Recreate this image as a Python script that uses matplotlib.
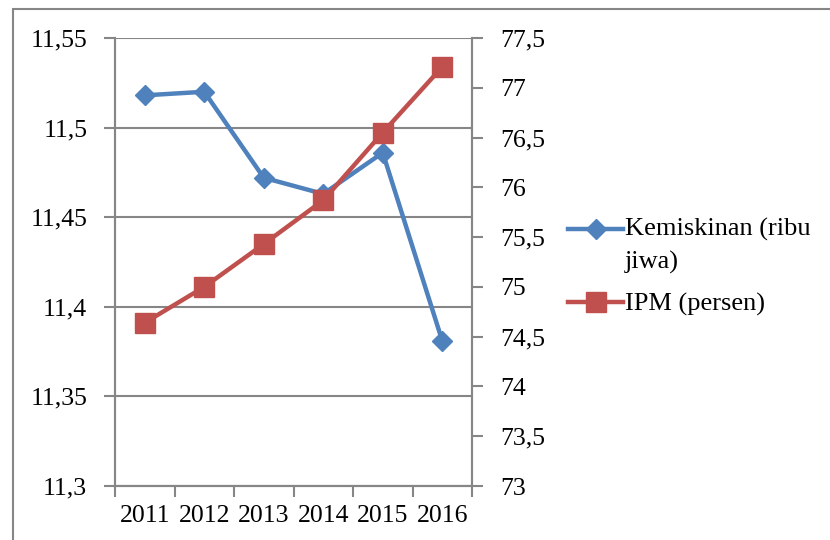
import matplotlib.pyplot as plt
import numpy as np
from matplotlib.ticker import FuncFormatter, MultipleLocator
from matplotlib.patches import Rectangle

tahun = ["2011", "2012", "2013", "2014", "2015", "2016"]
kemiskinan = [11.518, 11.520, 11.472, 11.463, 11.486, 11.381]
ipm = [74.64, 75.00, 75.43, 75.87, 76.55, 77.21]

plt.rcParams['font.family'] = ['Liberation Serif', 'DejaVu Serif']
grey = "#868686"
blue = "#4F81BD"
red = "#C0504D"

def koma(v, pos):
    return ("%g" % v).replace(".", ",")

fig = plt.figure(figsize=(8.3, 5.4), dpi=100)
fig.patches.append(Rectangle((13/830, -0.1), 1.2, (540-9)/540 + 0.1,
                             transform=fig.transFigure, fill=False,
                             edgecolor=grey, linewidth=1.5))
ax = fig.add_axes([115/830, 1-486/540, (472-115)/830, (486-38)/540])
ax2 = ax.twinx()

x = np.arange(len(tahun))
l1, = ax.plot(x, kemiskinan, color=blue, lw=3.2, marker="D", ms=10,
              label="Kemiskinan (ribu\njiwa)", zorder=5)
l2, = ax2.plot(x, ipm, color=red, lw=3.2, marker="s", ms=14.5,
               label="IPM (persen)", zorder=5)

ax.set_xlim(-0.5, 5.5)
ax.set_ylim(11.3, 11.55)
ax2.set_ylim(73, 77.5)
ax.yaxis.set_major_locator(MultipleLocator(0.05))
ax2.yaxis.set_major_locator(MultipleLocator(0.5))
ax.yaxis.set_major_formatter(FuncFormatter(koma))
ax2.yaxis.set_major_formatter(FuncFormatter(koma))

ax.set_xticks(x)
ax.set_xticklabels(tahun)
ax.set_xticks(np.arange(-0.5, 6, 1), minor=True)
ax.tick_params(axis="x", which="major", length=0, pad=14, labelsize=18.5)
ax.tick_params(axis="x", which="minor", length=8, width=1.5, color=grey)
ax.tick_params(axis="y", length=8, width=1.5, color=grey, labelsize=18.5, pad=12)
ax2.tick_params(axis="y", length=8, width=1.5, color=grey, labelsize=18.5, pad=12)

ax.grid(axis="y", color=grey, lw=1.5)
ax.set_axisbelow(True)
for a in (ax, ax2):
    for s in a.spines.values():
        s.set_color(grey)
        s.set_linewidth(1.5)
    a.spines["top"].set_visible(False)

leg = fig.legend(handles=[l1, l2], loc="upper left",
                 bbox_to_anchor=(568/830, 1-218/540), frameon=False,
                 fontsize=19, handlelength=2.1, handletextpad=0.05,
                 labelspacing=0.7, borderpad=0, borderaxespad=0)
for t in leg.get_texts():
    t.set_linespacing(1.55)
# handle sejajar baris pertama label dua baris
kolom = leg._legend_handle_box.get_children()[0]
item1 = kolom.get_children()[0]
for art in item1.get_children()[0].get_children():
    art.set_ydata(np.asarray(art.get_ydata()) + 12)

fig.savefig("out.png", dpi=100)
